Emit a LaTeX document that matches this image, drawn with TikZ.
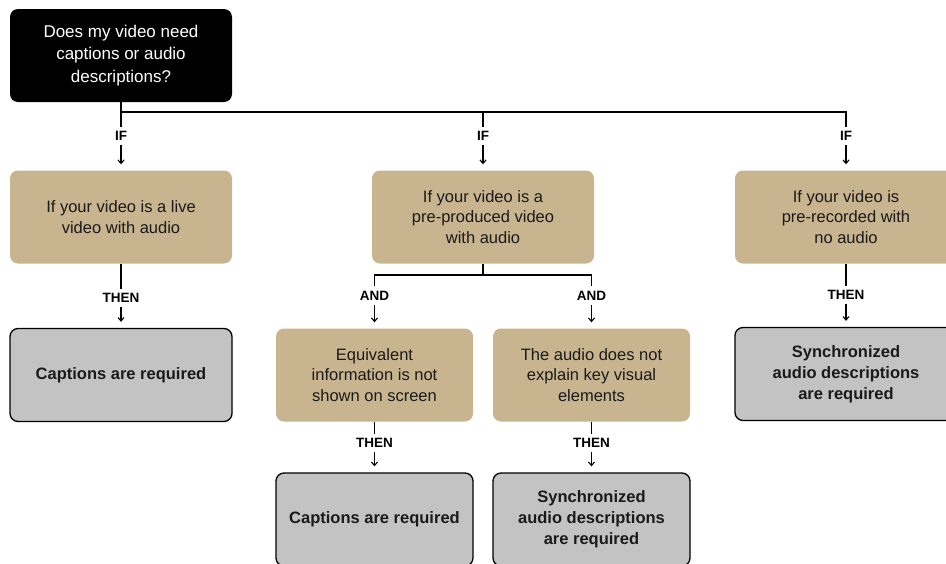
\documentclass[tikz,border=0pt]{standalone}
\usepackage{fontspec}
\setmainfont{Liberation Sans}
\usetikzlibrary{arrows.meta}
\definecolor{tanbox}{HTML}{C8B48F}
\definecolor{greybox}{HTML}{C3C3C3}
\definecolor{ink}{HTML}{1A1A1A}
\begin{document}
\begin{tikzpicture}[x=1pt,y=-1pt,
  box/.style={rounded corners=8pt, minimum width=222pt, minimum height=93pt, align=center, inner sep=0pt},
  q/.style={box, fill=black, text=white, font=\fontsize{17}{22.5}\selectfont},
  cond/.style={box, fill=tanbox, text=ink, font=\fontsize{16.5}{20.5}\selectfont},
  res/.style={box, fill=greybox, draw=black, line width=1.3pt, text=ink, font=\bfseries\fontsize{16.5}{21}\selectfont},
  small/.style={minimum width=197pt},
  lbl/.style={font=\bfseries\fontsize{13.5}{14}\selectfont, text height=9.5pt, text depth=0pt, inner ysep=4.5pt, inner xsep=1pt},
  ln/.style={line width=1.2pt},
  arr/.style={line width=1.1pt, -{Straight Barb[length=3.5pt,width=6pt,line width=1.1pt]}, shorten >=6pt}]
\path[use as bounding box] (0,0) rectangle (946,563);
\clip (0,0) rectangle (946,563);

% top question
\node[q] (q) at (121,55.5) {Does my video need\\captions or audio\\descriptions?};

% level 1 conditions
\node[cond] (c1) at (121,217) {If your video is a live\\video with audio};
\node[cond] (c2) at (483,217) {If your video is a\\pre-produced video\\with audio};
\node[cond] (c3) at (846,217) {If your video is\\pre-recorded with\\no audio};

% IF labels
\node[lbl] (if1) at (121,136) {IF};
\node[lbl] (if2) at (483,136) {IF};
\node[lbl] (if3) at (846,136) {IF};

\coordinate (hb) at (121,112);
\draw[ln] (q.south) -- (if1.north);
\draw[ln] (hb) -| (if3.north);
\draw[ln] (if2.north |- hb) -- (if2.north);
\draw[arr] (if1.south) -- (c1.north);
\draw[arr] (if2.south) -- (c2.north);
\draw[arr] (if3.south) -- (c3.north);

% left column
\node[lbl] (then1) at (121,298) {THEN};
\node[res] (r1) at (121,375) {Captions are required};
\draw[ln] (c1.south) -- (then1.north);
\draw[arr] (then1.south) -- (r1.north);

% right column
\node[lbl] (then3) at (846,295) {THEN};
\node[res] (r3) at (846,374) {Synchronized\\audio descriptions\\are required};
\draw[ln] (c3.south) -- (then3.north);
\draw[arr] (then3.south) -- (r3.north);

% middle column
\coordinate (m) at (483,275);
\node[lbl] (and2a) at (374.5,295.5) {AND};
\node[lbl] (and2b) at (591.5,295.5) {AND};
\node[cond, small] (c2a) at (374.5,375) {Equivalent\\information is not\\shown on screen};
\node[cond, small] (c2b) at (591.5,375) {The audio does not\\explain key visual\\elements};
\draw[ln] (c2.south) -- (m);
\draw[ln] (and2a.north) |- (m) -| (and2b.north);
\draw[arr] (and2a.south) -- (c2a.north);
\draw[arr] (and2b.south) -- (c2b.north);

\node[lbl] (then2a) at (374.5,443) {THEN};
\node[lbl] (then2b) at (591.5,443) {THEN};
\node[res, small] (r2a) at (374.5,519.5) {Captions are required};
\node[res, small] (r2b) at (591.5,519.5) {Synchronized\\audio descriptions\\are required};
\draw[ln] (c2a.south) -- (then2a.north);
\draw[ln] (c2b.south) -- (then2b.north);
\draw[arr] (then2a.south) -- (r2a.north);
\draw[arr] (then2b.south) -- (r2b.north);
\end{tikzpicture}
\end{document}
